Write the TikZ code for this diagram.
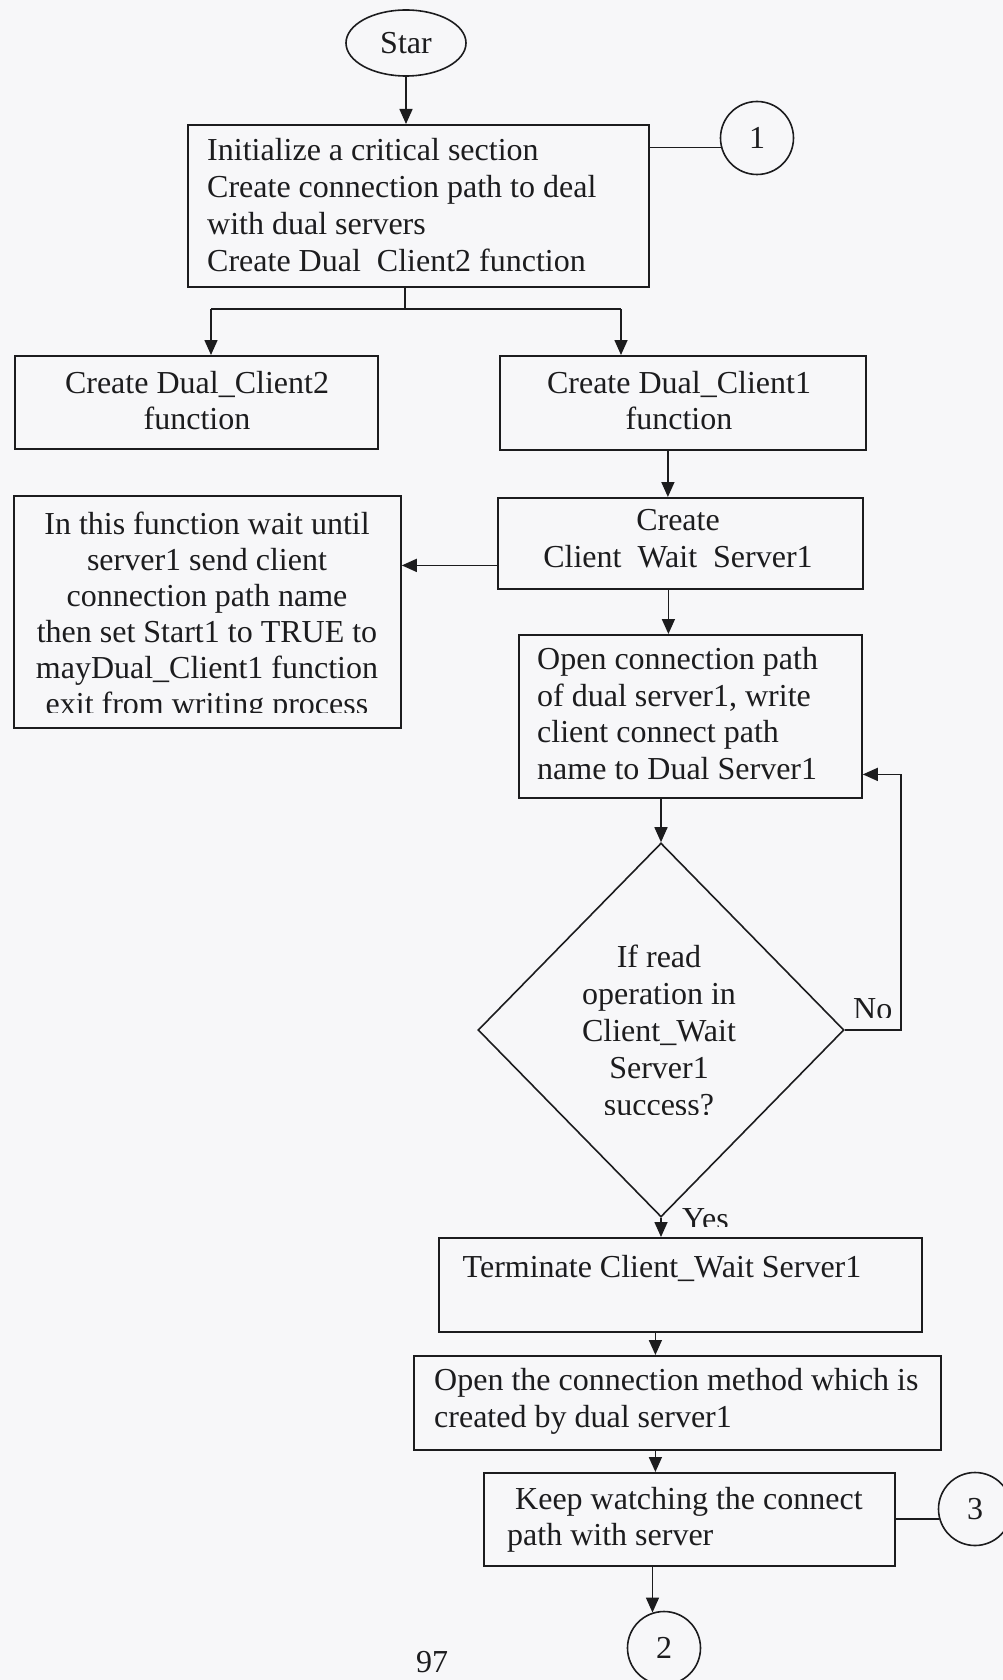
\documentclass[tikz,border=0pt]{standalone}
\usepackage{fontspec}
\setmainfont{Liberation Serif}
\usetikzlibrary{arrows.meta,shapes.geometric,calc}

\definecolor{paper}{RGB}{247,247,249}
\definecolor{ink}{RGB}{28,28,30}

\tikzset{
  base font/.style={font=\fontsize{32}{37}\selectfont},
  tight font/.style={font=\fontsize{32}{36}\selectfont},
  stepbox/.style={draw=ink, line width=1.8pt, inner sep=0pt, anchor=north west},
  conn/.style={draw=ink, line width=1.6pt},
  arr/.style={conn, -{Triangle[length=15pt,width=13pt]}},
  ltxt/.style={text=ink, inner sep=0pt, align=left, anchor=north west,
               yshift=25.9pt, execute at begin node=\strut},
  ctxt/.style={text=ink, inner sep=0pt, align=center, anchor=north,
               yshift=25.9pt, execute at begin node=\strut},
  onpage/.style={draw=ink, line width=1.6pt, circle, minimum size=73pt,
                 inner sep=0pt, text=ink}
}

\begin{document}
\begin{tikzpicture}[x=1pt, y=-1pt, base font]
  % page
  \fill[paper] (0,0) rectangle (1003,1680);
  \useasboundingbox (0,0) rectangle (1003,1680);

  % ---------- shapes ----------
  \node[draw=ink, line width=1.6pt, ellipse, minimum width=120pt,
        minimum height=66pt, inner sep=0pt, text=ink] (start) at (406,43) {Star};

  \node[stepbox, minimum width=461pt, minimum height=162pt] (init)  at (187,124) {};
  \node[onpage] (c1) at (757,138) {1};

  \node[stepbox, minimum width=363pt, minimum height=93pt]  (dc2)   at (14,355) {};
  \node[stepbox, minimum width=366pt, minimum height=94pt]  (dc1)   at (499,355) {};

  \node[stepbox, minimum width=387pt, minimum height=232pt] (wait)  at (13,495) {};
  \node[stepbox, minimum width=365pt, minimum height=91pt]  (cws)   at (497,497) {};

  \node[stepbox, minimum width=343pt, minimum height=163pt] (open)  at (518,634) {};

  \node[draw=ink, line width=1.6pt, diamond, minimum width=366pt,
        minimum height=374pt, inner sep=0pt] (dec) at (661,1030) {};

  \node[stepbox, minimum width=483pt, minimum height=94pt]  (term)  at (438,1237) {};
  \node[stepbox, minimum width=527pt, minimum height=94pt]  (meth)  at (413,1355) {};
  \node[stepbox, minimum width=411pt, minimum height=93pt]  (watch) at (483,1472) {};

  \node[onpage] (c3) at (975,1509) {3};
  \node[onpage] (c2) at (664,1648) {2};

  % ---------- texts ----------
  \node[ltxt] (initT) at (207,164) {Initialize a critical section\\
    Create connection path to deal\\with dual servers\\
    Create Dual\ \ Client2 function};

  \node[ctxt, tight font] (dc2T) at (197,397) {Create Dual\_Client2\\function};
  \node[ctxt, tight font] (dc1T) at (679,397) {Create Dual\_Client1\\function};

  \node[ctxt] (cwsT) at (678,535) {Create\\Client\ \ Wait\ \ Server1};

  \begin{scope}
    \clip (14,496) rectangle (399,712);
    \node[ctxt, tight font] (waitT) at (207,538) {In this function wait until\\
      server1 send client\\connection path name\\
      then set Start1\ to TRUE to\\mayDual\_Client1 function\\
      exit from writing process};
  \end{scope}

  \node[ltxt, font=\fontsize{32}{36.5}\selectfont] (openT) at (537,673)
    {Open connection path\\of dual server1, write\\
     client connect path\\name to Dual Server1};

  \begin{scope}
    \clip (480,930) rectangle (840,1114);
    \node[ctxt] (decT) at (659,971)
      {If read\\operation in\\Client\_Wait\\Server1\\success?};
  \end{scope}

  \begin{scope}
    \clip (846,990) rectangle (896,1017);
    \node[text=ink, inner sep=0pt, anchor=base west] (noT) at (853,1019) {No};
  \end{scope}
  \begin{scope}
    \clip (672,1195) rectangle (740,1226);
    \node[text=ink, inner sep=0pt, anchor=base west] (yesT) at (682,1229) {Yes};
  \end{scope}

  \node[ctxt] (termT) at (662,1277) {Terminate Client\_Wait Server1};

  \node[ltxt] (methT) at (434,1394)
    {Open the connection method which is\\created by dual server1};

  \node[ltxt, tight font] (watchT) at (507,1513)
    {\ Keep watching the connect\\path with server};

  \node[text=ink, inner sep=0pt, anchor=base] (pageno) at (432,1672) {97};

  % ---------- connectors ----------
  \draw[arr] (start.south) -- (start.south |- init.north);
  \draw[conn] (c1.195) -- (c1.195 -| init.east);

  \coordinate (fork)  at (405,309);
  \coordinate (forkL) at (211,309);
  \coordinate (forkR) at (621,309);
  \draw[conn] (fork |- init.south) -- (fork);
  \draw[conn] (forkL) -- (forkR);
  \draw[arr] (forkL) -- (forkL |- dc2.north);
  \draw[arr] (forkR) -- (forkR |- dc1.north);

  \draw[arr] ([xshift=-15pt]dc1.south) -- ([xshift=-15pt]dc1.south |- cws.north);
  \draw[arr] ([yshift=-22pt]cws.west) -- ([yshift=-22pt]cws.west -| wait.east);
  \draw[arr] ([xshift=-12pt]cws.south) -- ([xshift=-12pt]cws.south |- open.north);
  \draw[arr] (dec.north |- open.south) -- (dec.north);

  \draw[arr] (dec.east) -| ([xshift=38pt,yshift=-58pt]open.east)
             -- ([yshift=-58pt]open.east);

  \draw[arr] (dec.south) -- (dec.south |- term.north);
  \draw[arr] ([xshift=-25pt]term.south) -- ([xshift=-25pt]term.south |- meth.north);
  \draw[arr] ([xshift=-22pt]meth.south) -- ([xshift=-22pt]meth.south |- watch.north);
  \draw[conn] (c3.196) -- (c3.196 -| watch.east);
  \draw[arr] (c2.108 |- watch.south) -- (c2.108);
\end{tikzpicture}
\end{document}
